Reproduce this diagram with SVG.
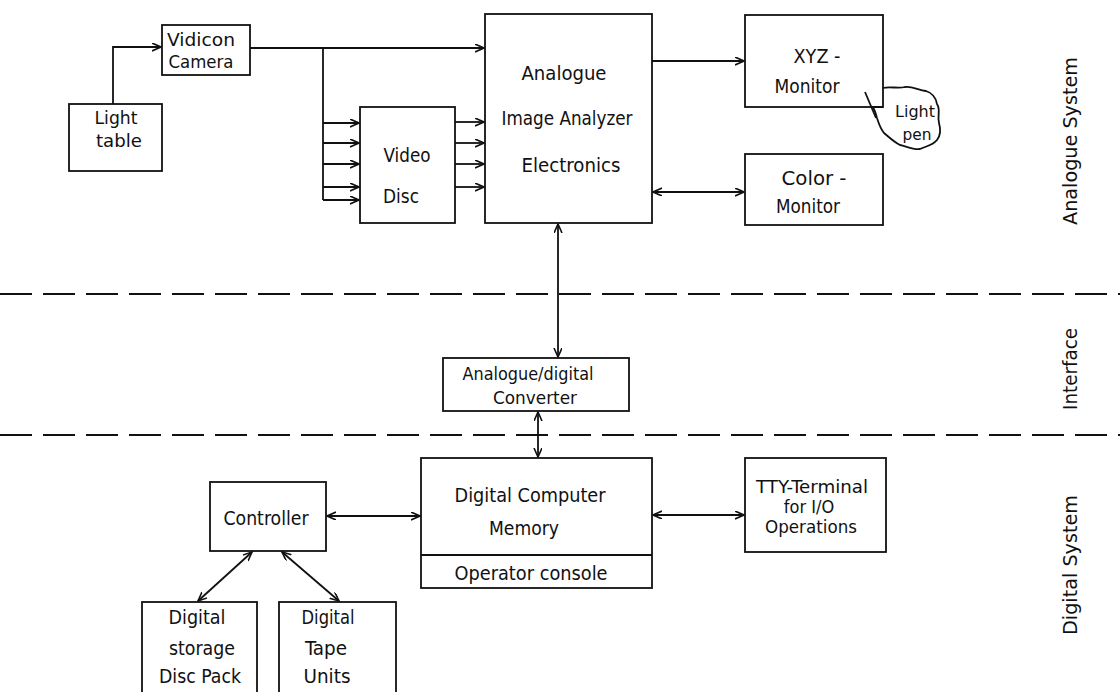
<svg xmlns="http://www.w3.org/2000/svg" width="1120" height="692" viewBox="0 0 1120 692">
<style>
.box{fill:none;stroke:#111;stroke-width:1.8}
.t{font-family:"DejaVu Sans Condensed","DejaVu Sans","Liberation Sans",sans-serif;font-size:20px;fill:#111;text-anchor:middle}
.s{font-size:18px}
.xs{font-size:15px}
.side{font-family:"DejaVu Sans Condensed","DejaVu Sans","Liberation Sans",sans-serif;font-size:20px;fill:#111;text-anchor:middle}
.c{fill:none;stroke:#111;stroke-width:1.8}
.a{marker-end:url(#ah)}
.d{marker-start:url(#ah);marker-end:url(#ah)}
.dash{fill:none;stroke:#111;stroke-width:2;stroke-dasharray:32 11}
</style>
<defs>
<marker id="ah" markerWidth="10" markerHeight="10" refX="9" refY="4" orient="auto-start-reverse" markerUnits="userSpaceOnUse">
<path d="M0,0 L9,4 L0,8" fill="none" stroke="#111" stroke-width="1.6"/>
</marker>
</defs>
<rect width="1120" height="692" fill="#fff"/>

<g id="separators">
<path class="dash" d="M0,294 H1120"/>
<path class="dash" d="M0,435 H1120"/>
</g>

<g id="connectors">
<path class="c a" d="M113,104 V47 H161"/>
<path class="c a" d="M250,48 H484"/>
<path class="c" d="M323,48 V200"/>
<path class="c a" d="M323,123 H359"/>
<path class="c a" d="M323,143 H359"/>
<path class="c a" d="M323,164 H359"/>
<path class="c a" d="M323,187 H359"/>
<path class="c a" d="M323,200 H359"/>
<path class="c a" d="M455,122 H484"/>
<path class="c a" d="M455,143 H484"/>
<path class="c a" d="M455,164 H484"/>
<path class="c a" d="M455,187 H484"/>
<path class="c a" d="M652,61 H744"/>
<path class="c d" d="M653,192 H744"/>
<path class="c d" d="M558,224 V357"/>
<path class="c d" d="M538,412 V457"/>
<path class="c d" d="M327,516 H420"/>
<path class="c d" d="M653,515 H744"/>
<path class="c d" d="M252,552 L198,601"/>
<path class="c d" d="M282,552 L339,601"/>
</g>

<g id="light-table">
<rect class="box" x="69" y="104" width="93" height="67"/>
<text class="t s" x="116" y="124" textLength="43" lengthAdjust="spacingAndGlyphs">Light</text>
<text class="t s" x="119" y="147" textLength="46" lengthAdjust="spacingAndGlyphs">table</text>
</g>

<g id="vidicon-camera">
<rect class="box" x="162" y="25" width="88" height="50"/>
<text class="t s" x="201" y="46" textLength="68" lengthAdjust="spacingAndGlyphs">Vidicon</text>
<text class="t s" x="201" y="68" textLength="65" lengthAdjust="spacingAndGlyphs">Camera</text>
</g>

<g id="video-disc">
<rect class="box" x="360" y="107" width="95" height="116"/>
<text class="t" x="407" y="162" textLength="47" lengthAdjust="spacingAndGlyphs">Video</text>
<text class="t" x="401" y="203" textLength="36" lengthAdjust="spacingAndGlyphs">Disc</text>
</g>

<g id="analyzer">
<rect class="box" x="485" y="14" width="167" height="209"/>
<text class="t" x="564" y="80" textLength="85" lengthAdjust="spacingAndGlyphs">Analogue</text>
<text class="t" x="567" y="125" textLength="131" lengthAdjust="spacingAndGlyphs">Image Analyzer</text>
<text class="t" x="571" y="172" textLength="99" lengthAdjust="spacingAndGlyphs">Electronics</text>
</g>

<g id="xyz-monitor">
<rect class="box" x="745" y="15" width="138" height="92"/>
<text class="t" x="817" y="63" textLength="47" lengthAdjust="spacingAndGlyphs">XYZ -</text>
<text class="t" x="807" y="93" textLength="65" lengthAdjust="spacingAndGlyphs">Monitor</text>
</g>

<g id="light-pen">
<path class="c" d="M865,92 L876,118" stroke-width="2.6"/>
<path class="c" d="M883,88 C890,86 898,89 905,87 C912,86 918,90 926,91 C932,93 936,98 937,104 C941,110 937,116 939,123 C941,130 941,135 937,140 C932,146 926,146 920,149 C913,150 906,146 900,145 C894,142 890,138 884,133 C880,128 879,124 877,118 C876,113 874,109 873,107 L883,107"/>
<text class="t xs" x="915" y="117" textLength="40" lengthAdjust="spacingAndGlyphs">Light</text>
<text class="t xs" x="917" y="140" textLength="29" lengthAdjust="spacingAndGlyphs">pen</text>
</g>

<g id="color-monitor">
<rect class="box" x="745" y="154" width="138" height="71"/>
<text class="t" x="814" y="185" textLength="65" lengthAdjust="spacingAndGlyphs">Color -</text>
<text class="t" x="808" y="213" textLength="64" lengthAdjust="spacingAndGlyphs">Monitor</text>
</g>

<g id="converter">
<rect class="box" x="443" y="358" width="186" height="53"/>
<text class="t s" x="528" y="380" textLength="131" lengthAdjust="spacingAndGlyphs">Analogue/digital</text>
<text class="t s" x="535" y="404" textLength="84" lengthAdjust="spacingAndGlyphs">Converter</text>
</g>

<g id="digital-computer">
<rect class="box" x="421" y="458" width="231" height="130"/>
<path class="c" d="M421,555 H652"/>
<text class="t" x="530" y="502" textLength="151" lengthAdjust="spacingAndGlyphs">Digital Computer</text>
<text class="t" x="524" y="535" textLength="70" lengthAdjust="spacingAndGlyphs">Memory</text>
<text class="t" x="531" y="580" textLength="153" lengthAdjust="spacingAndGlyphs">Operator console</text>
</g>

<g id="controller">
<rect class="box" x="210" y="482" width="116" height="69"/>
<text class="t" x="266" y="525" textLength="85" lengthAdjust="spacingAndGlyphs">Controller</text>
</g>

<g id="tty-terminal">
<rect class="box" x="745" y="458" width="141" height="94"/>
<text class="t s" x="812" y="493" textLength="112" lengthAdjust="spacingAndGlyphs">TTY-Terminal</text>
<text class="t s" x="809" y="513">for I/O</text>
<text class="t s" x="811" y="533" textLength="92" lengthAdjust="spacingAndGlyphs">Operations</text>
</g>

<g id="disc-pack">
<rect class="box" x="142" y="602" width="115" height="100"/>
<text class="t" x="197" y="624" textLength="57" lengthAdjust="spacingAndGlyphs">Digital</text>
<text class="t" x="202" y="655" textLength="66" lengthAdjust="spacingAndGlyphs">storage</text>
<text class="t" x="200" y="683" textLength="82" lengthAdjust="spacingAndGlyphs">Disc Pack</text>
</g>

<g id="tape-units">
<rect class="box" x="279" y="602" width="117" height="100"/>
<text class="t" x="328" y="624" textLength="53" lengthAdjust="spacingAndGlyphs">Digital</text>
<text class="t" x="326" y="655" textLength="42" lengthAdjust="spacingAndGlyphs">Tape</text>
<text class="t" x="327" y="683" textLength="47" lengthAdjust="spacingAndGlyphs">Units</text>
</g>

<g id="section-labels">
<text class="side" transform="translate(1077,141) rotate(-90)" textLength="168" lengthAdjust="spacingAndGlyphs">Analogue System</text>
<text class="side" transform="translate(1077,369) rotate(-90)" textLength="82" lengthAdjust="spacingAndGlyphs">Interface</text>
<text class="side" transform="translate(1077,565) rotate(-90)" textLength="140" lengthAdjust="spacingAndGlyphs">Digital System</text>
</g>
</svg>
